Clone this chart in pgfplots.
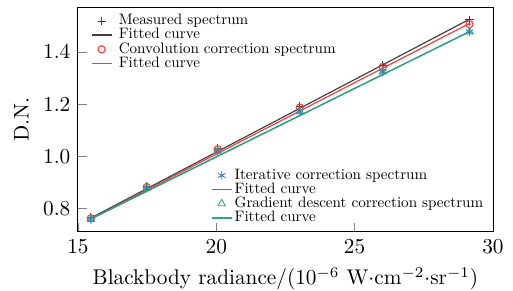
\documentclass[border=0pt]{standalone}
\usepackage{pgfplots}
\pgfplotsset{compat=1.18}
\definecolor{cgray}{HTML}{404040}
\definecolor{cred}{HTML}{F53C3C}
\definecolor{cblue}{HTML}{2E7BDC}
\definecolor{cgreen}{HTML}{2FA86E}
\newcommand{\lt}[1]{\scalebox{0.71}{#1}}
\pgfplotsset{
  common/.style={
    scale only axis, width=195pt, height=105.6pt,
    xmin=15, xmax=30, ymin=0.71, ymax=1.573,
    xtick={15,20,25,30}, ytick={0.8,1.0,1.2,1.4},
    yticklabel style={/pgf/number format/fixed,/pgf/number format/fixed zerofill,/pgf/number format/precision=1},
    tick align=inside, xtick pos=bottom, ytick pos=left,
    legend cell align=left,
    legend style={draw=none, fill=none, font=\normalsize, row sep=-0.8pt, inner sep=0pt,
      nodes={inner sep=0.5pt}},
  },
  lineleg/.style={legend image code/.code={\draw[draw=#1, line width=0.75pt] (0cm,0cm) -- (0.33cm,0cm);}},
  markleg/.style={legend image code/.code={\draw[##1] plot coordinates {(0.165cm,0cm)};}},
}
\begin{document}
\begin{tikzpicture}
\begin{axis}[common,
  xlabel={Blackbody radiance/($10^{-6}$ W$\cdot$cm$^{-2}\cdot$sr$^{-1}$)},
  ylabel={D.N.},
  legend style={at={(0.03,0.975)}, anchor=north west, column sep=2.5pt},
]
\addplot[only marks, mark=+, mark size=1.9pt, cgray, markleg] coordinates {
 (15.47,0.765) (17.49,0.885) (20.05,1.030) (23.02,1.192) (26.02,1.350) (29.15,1.524)};
\addlegendentry{\lt{Measured spectrum}}
\addplot[cgray, line width=0.55pt, lineleg=cgray] coordinates {(15.47,0.763) (29.15,1.526)};
\addlegendentry{\lt{Fitted curve}}
\addplot[only marks, mark=o, mark size=1.7pt, cred, markleg, mark options={line width=0.5pt}] coordinates {
 (15.47,0.762) (17.49,0.882) (20.05,1.027) (23.02,1.187) (26.02,1.343) (29.15,1.507)};
\addlegendentry{\lt{Convolution correction spectrum}}
\addplot[only marks, mark=*, mark size=0.45pt, cred, forget plot] coordinates {
 (15.47,0.762) (17.49,0.882) (20.05,1.027) (23.02,1.187) (26.02,1.343) (29.15,1.507)};
\addplot[cred, line width=0.55pt, lineleg=cred] coordinates {(15.47,0.760) (29.15,1.510)};
\addlegendentry{\lt{Fitted curve}}
\end{axis}
\begin{axis}[common, hide axis,
  legend style={at={(0.98,0.025)}, anchor=south east, column sep=0.5pt},
]
\addplot[only marks, mark=asterisk, mark size=2pt, cblue, markleg] coordinates {
 (15.47,0.758) (17.49,0.878) (20.05,1.020) (23.02,1.172) (26.02,1.324) (29.15,1.478)};
\addlegendentry{\lt{Iterative correction spectrum}}
\addplot[cblue, line width=0.55pt, lineleg=cblue] coordinates {(15.47,0.760) (29.15,1.479)};
\addlegendentry{\lt{Fitted curve}}
\addplot[only marks, mark=triangle, mark size=2pt, cgreen, markleg] coordinates {
 (15.47,0.758) (17.49,0.878) (20.05,1.020) (23.02,1.172) (26.02,1.324) (29.15,1.478)};
\addlegendentry{\lt{Gradient descent correction spectrum}}
\addplot[cgreen, line width=0.55pt, lineleg=cgreen] coordinates {(15.47,0.759) (29.15,1.478)};
\addlegendentry{\lt{Fitted curve}}
\end{axis}
\pgfresetboundingbox
\path (current axis.south west) ++(-36.6pt,-27.7pt) coordinate (bbA);
\path (current axis.north east) ++(9.4pt,3.3pt) coordinate (bbB);
\useasboundingbox (bbA) rectangle (bbB);
\end{tikzpicture}
\end{document}
